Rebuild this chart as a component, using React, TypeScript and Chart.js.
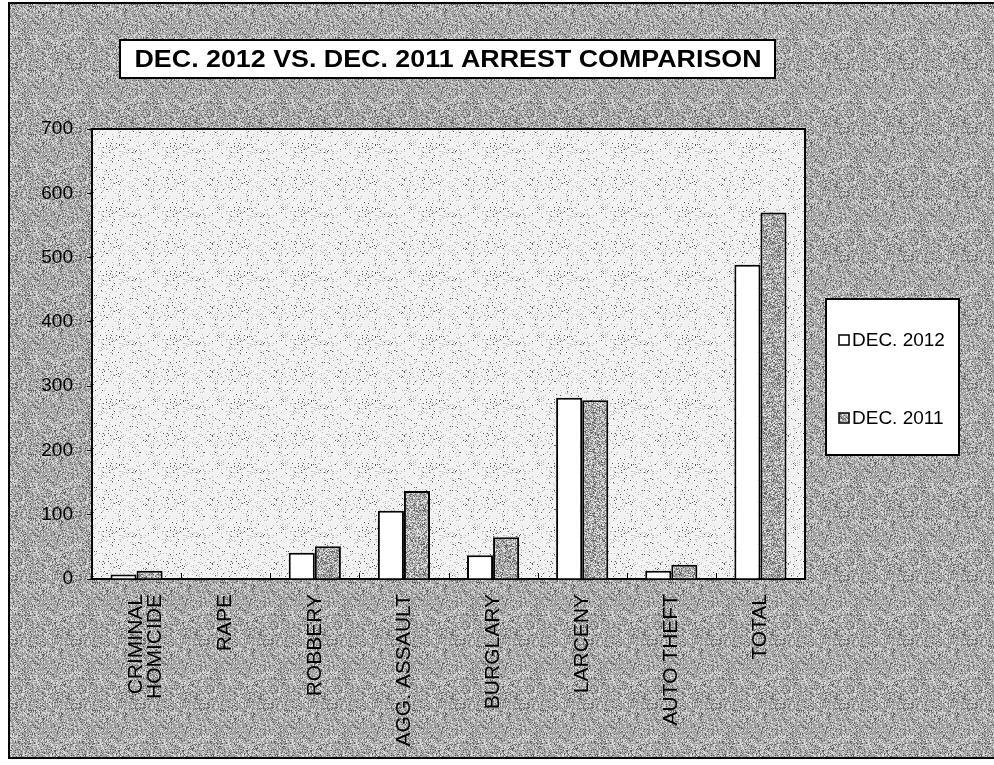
import { useEffect, useRef } from 'react';
import { Chart, registerables } from 'chart.js';

Chart.register(...registerables);

const W = 994;
const H = 765;
const FONT = '"Liberation Sans", Arial, sans-serif';

const categories: (string | string[])[] = [
  ['CRIMINAL', 'HOMICIDE'],
  'RAPE',
  'ROBBERY',
  'AGG. ASSAULT',
  'BURGLARY',
  'LARCENY',
  'AUTO THEFT',
  'TOTAL',
];
const dec2012 = [7, 1, 41, 106, 37, 282, 13, 489];
const dec2011 = [13, 1, 51, 137, 65, 278, 22, 570];
const seriesLabels = ['DEC. 2012', 'DEC. 2011'];
const titleText = 'DEC. 2012 VS. DEC. 2011 ARREST COMPARISON';
const yMin = 0;
const yMax = 700;
const yStep = 100;

function makePattern(levels: [number, number][], seed: number): CanvasPattern | string {
  const c = document.createElement('canvas');
  c.width = 64;
  c.height = 64;
  const g = c.getContext('2d');
  if (!g) return '#aaa';
  const img = g.createImageData(64, 64);
  let s = seed;
  for (let i = 0; i < 64 * 64; i++) {
    s = (s * 1103515245 + 12345) & 0x7fffffff;
    const r = s / 0x7fffffff;
    let acc = 0;
    let v = levels[levels.length - 1][1];
    for (const [p, val] of levels) {
      acc += p;
      if (r < acc) {
        v = val;
        break;
      }
    }
    img.data[i * 4] = v;
    img.data[i * 4 + 1] = v;
    img.data[i * 4 + 2] = v;
    img.data[i * 4 + 3] = 255;
  }
  g.putImageData(img, 0, 0);
  const p = g.createPattern(c, 'repeat');
  return p || '#aaa';
}

export default function App() {
  const ref = useRef<HTMLCanvasElement>(null);

  useEffect(() => {
    const canvas = ref.current;
    if (!canvas) return;
    const outerPat = makePattern([[0.12, 95], [0.3, 215], [0.58, 160]], 7);
    const plotPat = makePattern([[0.025, 90], [0.08, 185], [0.895, 242]], 13);
    const barPat = makePattern([[0.2, 100], [0.3, 225], [0.5, 165]], 29);

    const decor = {
      id: 'decor',
      beforeDraw(chart: any) {
        const ctx = chart.ctx;
        const ca = chart.chartArea;
        ctx.save();
        ctx.fillStyle = '#ffffff';
        ctx.fillRect(0, 0, W, H);
        ctx.fillStyle = outerPat;
        ctx.fillRect(9, 3, W - 9, 755);
        ctx.fillStyle = '#000';
        ctx.fillRect(8, 2, W - 8, 2);
        ctx.fillRect(8, 2, 2, 757);
        ctx.fillRect(8, 757, W - 8, 2);
        // plot area
        ctx.fillStyle = plotPat;
        ctx.fillRect(ca.left, ca.top, ca.right - ca.left, ca.bottom - ca.top);
        // title box
        ctx.fillStyle = '#fff';
        ctx.fillRect(120, 40, 655, 38);
        ctx.strokeStyle = '#000';
        ctx.lineWidth = 2;
        ctx.strokeRect(120, 40, 655, 38);
        ctx.fillStyle = '#000';
        ctx.font = `bold 24px ${FONT}`;
        ctx.textBaseline = 'middle';
        ctx.textAlign = 'center';
        const tw = ctx.measureText(titleText).width;
        ctx.save();
        ctx.translate(448, 60);
        ctx.scale(627 / tw, 1);
        ctx.fillText(titleText, 0, 0);
        ctx.restore();
        // legend box
        ctx.fillStyle = '#fff';
        ctx.fillRect(826, 299, 133, 156);
        ctx.strokeRect(826, 299, 133, 156);
        const ys = [340, 418];
        chart.data.datasets.forEach((ds: any, i: number) => {
          const y = ys[i];
          ctx.fillStyle = ds.backgroundColor;
          ctx.fillRect(839, y - 5, 10, 10);
          ctx.lineWidth = 1.5;
          ctx.strokeStyle = '#000';
          ctx.strokeRect(839, y - 5, 10, 10);
          ctx.fillStyle = '#000';
          ctx.font = `19px ${FONT}`;
          ctx.textAlign = 'left';
          ctx.textBaseline = 'middle';
          ctx.fillText(ds.label, 852, y + 1);
        });
        ctx.restore();
      },
      afterDraw(chart: any) {
        const ctx = chart.ctx;
        const ca = chart.chartArea;
        ctx.save();
        ctx.strokeStyle = '#000';
        ctx.lineWidth = 2;
        ctx.beginPath();
        ctx.moveTo(ca.left, ca.top);
        ctx.lineTo(ca.right, ca.top);
        ctx.lineTo(ca.right, ca.bottom);
        ctx.stroke();
        const n = chart.data.labels.length;
        const step = (ca.right - ca.left) / n;
        ctx.lineWidth = 1;
        for (let i = 1; i < n; i++) {
          const x = Math.round(ca.left + step * i) + 0.5;
          ctx.beginPath();
          ctx.moveTo(x, ca.bottom);
          ctx.lineTo(x, ca.bottom - 6);
          ctx.stroke();
        }
        ctx.restore();
      },
    };

    const chart = new Chart(canvas, {
      type: 'bar',
      data: {
        labels: categories,
        datasets: [
          {
            label: seriesLabels[0],
            data: dec2012,
            backgroundColor: '#ffffff',
            borderColor: '#000',
            borderWidth: 2,
            categoryPercentage: 0.585,
            barPercentage: 1,
          },
          {
            label: seriesLabels[1],
            data: dec2011,
            backgroundColor: barPat as any,
            borderColor: '#000',
            borderWidth: 2,
            categoryPercentage: 0.585,
            barPercentage: 1,
          },
        ],
      },
      options: {
        responsive: false,
        animation: false,
        layout: { padding: { left: 0, top: 129, right: 189, bottom: 0 } },
        plugins: {
          legend: { display: false },
          title: { display: false },
          tooltip: { enabled: false },
        },
        scales: {
          x: {
            grid: { display: false },
            border: { display: true, color: '#000', width: 2 },
            ticks: {
              color: '#000',
              font: { family: FONT, size: 21, lineHeight: 0.9 },
              maxRotation: 90,
              minRotation: 90,
              padding: 7,
              autoSkip: false,
            },
            afterFit: (s: any) => {
              s.height = 186;
            },
          },
          y: {
            min: yMin,
            max: yMax,
            grid: {
              display: true,
              drawOnChartArea: false,
              drawTicks: true,
              tickLength: 5,
              color: '#000',
            },
            border: { display: true, color: '#000', width: 2 },
            ticks: {
              stepSize: yStep,
              color: '#000',
              font: { family: FONT, size: 19 },
              padding: 14,
            },
            afterFit: (s: any) => {
              s.width = 92;
            },
          },
        },
      },
      plugins: [decor],
    });
    return () => chart.destroy();
  }, []);

  return (
    <div style={{ position: 'fixed', left: 0, top: 0, width: W, height: H }}>
      <canvas ref={ref} width={W} height={H} style={{ width: W, height: H, display: 'block' }} />
    </div>
  );
}
